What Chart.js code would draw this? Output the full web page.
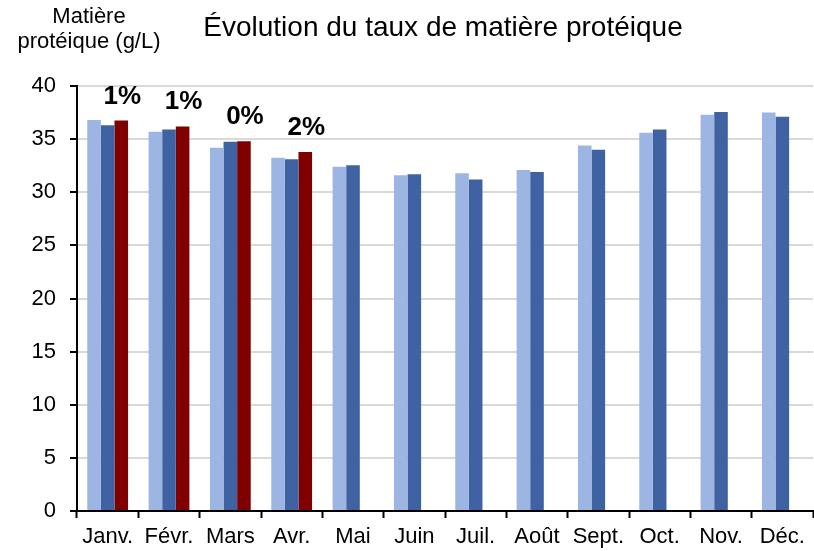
<!DOCTYPE html>
<html>
<head>
<meta charset="utf-8">
<script src="https://cdn.jsdelivr.net/npm/chart.js@4"></script>
<style>
  html, body { margin: 0; padding: 0; background: #fff; }
  #wrap { width: 814px; height: 551px; }
</style>
</head>
<body>
<div id="wrap"><canvas id="mpChart"></canvas></div>
<script>
// données
const mois = ['Janv.', 'Févr.', 'Mars', 'Avr.', 'Mai', 'Juin', 'Juil.', 'Août', 'Sept.', 'Oct.', 'Nov.', 'Déc.'];
const serieA = [36.8, 35.7, 34.2, 33.25, 32.4, 31.6, 31.8, 32.1, 34.4, 35.6, 37.3, 37.5];
const serieB = [36.3, 35.9, 34.75, 33.1, 32.55, 31.7, 31.2, 31.9, 34.0, 35.9, 37.55, 37.1];
const serieC = [36.75, 36.2, 34.8, 33.8, null, null, null, null, null, null, null, null];
const ecarts = ['1%', '1%', '0%', '2%'];
const yTicks = [0, 5, 10, 15, 20, 25, 30, 35, 40];

const FONT = 'Arial, "Liberation Sans", sans-serif';

const textPlugin = {
  id: 'textes',
  afterDatasetsDraw(chart) {
    const ctx = chart.ctx;
    ctx.save();
    ctx.fillStyle = '#000';
    ctx.textAlign = 'center';
    ctx.textBaseline = 'alphabetic';

    // titre
    ctx.font = '28px ' + FONT;
    ctx.fillText('Évolution du taux de matière protéique', 443, 36);

    // titre de l'axe Y
    ctx.font = '22px ' + FONT;
    ctx.fillText('Matière', 89, 23);
    ctx.fillText('protéique (g/L)', 89, 48);

    // écarts au-dessus des barres rouges
    ctx.font = 'bold 26px ' + FONT;
    const meta = chart.getDatasetMeta(2);
    ecarts.forEach((txt, i) => {
      const bar = meta.data[i];
      if (bar) ctx.fillText(txt, bar.x + 1, bar.y - 17);
    });
    ctx.restore();
  }
};

new Chart(document.getElementById('mpChart'), {
  type: 'bar',
  data: {
    labels: mois,
    datasets: [
      { label: 'Série 1', data: serieA, backgroundColor: '#9db5e2' },
      { label: 'Série 2', data: serieB, backgroundColor: '#3f62a3' },
      { label: 'Série 3', data: serieC, backgroundColor: '#800000' },
    ],
  },
  options: {
    responsive: true,
    maintainAspectRatio: false,
    animation: false,
    datasets: {
      bar: { barPercentage: 1, categoryPercentage: 0.665 },
    },
    layout: { padding: { top: 86, right: 1, left: 0, bottom: 0 } },
    plugins: {
      legend: { display: false },
      tooltip: { enabled: false },
      title: { display: false },
    },
    scales: {
      x: {
        grid: {
          display: true,
          drawOnChartArea: false,
          drawTicks: true,
          tickLength: 7,
          tickColor: '#000',
          tickWidth: 2,
        },
        border: { color: '#000', width: 2 },
        ticks: {
          color: '#000',
          font: { family: FONT, size: 22 },
          padding: 6,
          maxRotation: 0,
          autoSkip: false,
        },
        afterFit(scale) { scale.height = 40; },
      },
      y: {
        min: 0,
        max: 40,
        afterBuildTicks(scale) { scale.ticks = yTicks.map(v => ({ value: v })); },
        grid: {
          color: '#d9d9d9',
          lineWidth: 2,
          tickLength: 7,
          tickColor: '#000',
          tickWidth: 2,
        },
        border: { color: '#000', width: 2 },
        ticks: {
          color: '#000',
          font: { family: FONT, size: 22 },
          padding: 14,
        },
        afterFit(scale) { scale.width = 77; },
      },
    },
  },
  plugins: [textPlugin],
});
</script>
</body>
</html>
